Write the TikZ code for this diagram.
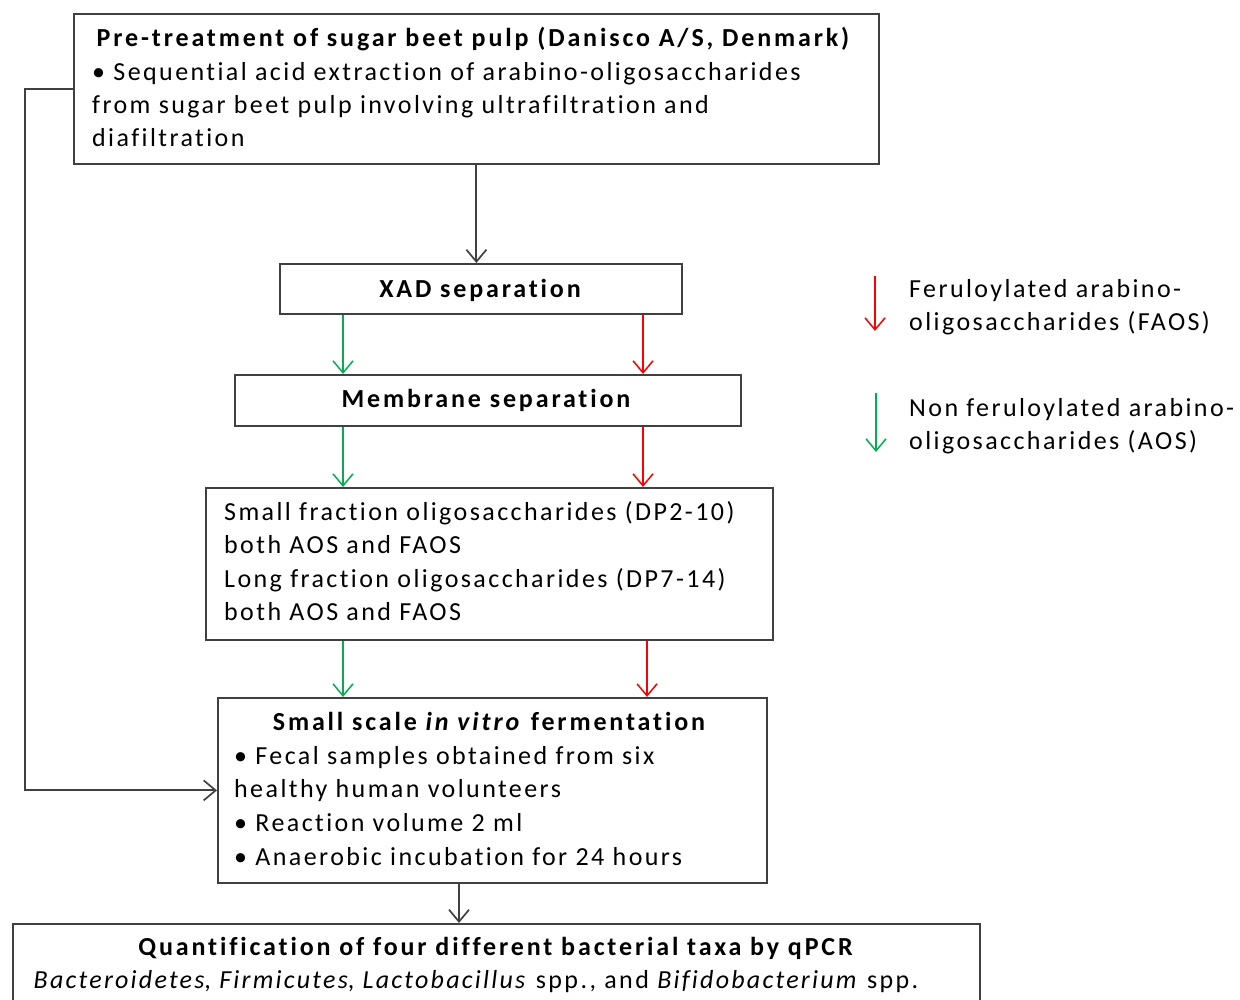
\documentclass[tikz,border=0pt]{standalone}
\usepackage{fontspec}
\setmainfont{Carlito}[Ligatures={NoCommon},LetterSpace=9.3,BoldFeatures={LetterSpace=11},ItalicFeatures={LetterSpace=8.6},BoldItalicFeatures={LetterSpace=11}]
\usetikzlibrary{arrows.meta}
\definecolor{gr}{HTML}{00B050}
\definecolor{rd}{HTML}{FF0000}
\definecolor{bd}{HTML}{404040}
\begin{document}
\begin{tikzpicture}[x=1pt,y=-1pt,
  box/.style={draw=bd,line width=1.8pt,rectangle,inner sep=0pt,anchor=north west},
  txt/.style={anchor=base west,inner sep=0pt,font=\fontsize{26}{33.5}\selectfont},
  ctxt/.style={anchor=base,inner sep=0pt,font=\fontsize{26}{33.5}\selectfont\bfseries},
  barrow/.style={draw=bd,line width=1.9pt,-{Straight Barb[length=12pt,width=20pt,line width=1.7pt]}},
  garrow/.style={draw=gr,line width=1.5pt,-{Straight Barb[length=12pt,width=20pt,line width=1.5pt]}},
  rarrow/.style={draw=rd,line width=1.5pt,-{Straight Barb[length=12pt,width=20pt,line width=1.5pt]}}]
\useasboundingbox (0,0) rectangle (1240,1000);
\clip (0,0) rectangle (1240,1000);
% boxes
\node[box,minimum width=805pt,minimum height=150pt] (b1) at (73,13) {};
\node[box,minimum width=402pt,minimum height=50pt] (xad) at (279,263) {};
\node[box,minimum width=506pt,minimum height=51pt] (mem) at (234,374) {};
\node[box,minimum width=567pt,minimum height=152pt] (b4) at (205,487) {};
\node[box,minimum width=549pt,minimum height=185pt] (b5) at (217,697) {};
\node[box,minimum width=967pt,minimum height=100pt] (b6) at (12,923) {};
% texts
\node[ctxt] (t1) at (473,47) {Pre-treatment of sugar beet pulp (Danisco A/S, Denmark)};
\node[txt] (t1a) at (92,81) {• Sequential acid extraction of arabino-oligosaccharides};
\node[txt] (t1b) at (92,114) {from sugar beet pulp involving ultrafiltration and};
\node[txt] (t1c) at (92,147) {diafiltration};
\node[ctxt] (t2) at (480,298) {XAD separation};
\node[ctxt] (t3) at (486,407) {Membrane separation};
\node[txt] (t4a) at (224,520) {Small fraction oligosaccharides (DP2-10)};
\node[txt] (t4b) at (224,553) {both AOS and FAOS};
\node[txt] (t4c) at (224,587) {Long fraction oligosaccharides (DP7-14)};
\node[txt] (t4d) at (224,620) {both AOS and FAOS};
\node[ctxt] (t5) at (489,730) {Small scale \textit{in vitro} fermentation};
\node[txt] (t5a) at (234,764) {• Fecal samples obtained from six};
\node[txt] (t5b) at (234,797) {healthy human volunteers};
\node[txt] (t5c) at (234,831) {• Reaction volume 2 ml};
\node[txt] (t5d) at (234,865) {• Anaerobic incubation for 24 hours};
\node[ctxt] (t6) at (495.5,955) {Quantification of four different bacterial taxa by qPCR};
\node[txt,anchor=base] (t6a) at (476,988) {\textit{Bacteroidetes}, \textit{Firmicutes}, \textit{Lactobacillus} spp., and \textit{Bifidobacterium} spp.};
% legend
\coordinate (lr1) at (875,276);
\coordinate (lr2) at (875,331);
\coordinate (lg1) at (876,393);
\coordinate (lg2) at (876,452);
\draw[rarrow] (lr1) -- (lr2);
\draw[garrow] (lg1) -- (lg2);
\node[txt] (l1a) at (909,298) {Feruloylated arabino-};
\node[txt] (l1b) at (909,331) {oligosaccharides (FAOS)};
\node[txt] (l2a) at (909,416) {Non feruloylated arabino-};
\node[txt] (l2b) at (909,449) {oligosaccharides (AOS)};
% connectors
\coordinate (gx) at (343,0);
\coordinate (rx) at (643,0);
\coordinate (rx2) at (647,0);
\coordinate (bx) at (459,0);
\draw[barrow] (b1.south) -- (b1.south |- xad.north);
\draw[garrow] (xad.south -| gx) -- (mem.north -| gx);
\draw[rarrow] (xad.south -| rx) -- (mem.north -| rx);
\draw[garrow] (mem.south -| gx) -- (b4.north -| gx);
\draw[rarrow] (mem.south -| rx) -- (b4.north -| rx);
\draw[garrow] (b4.south -| gx) -- (b5.north -| gx);
\draw[rarrow] (b4.south -| rx2) -- (b5.north -| rx2);
\draw[barrow] (b5.south -| bx) -- (b6.north -| bx);
\draw[barrow] (b1.west) -- ++(-48,0) |- (b5.west);
\end{tikzpicture}
\end{document}
